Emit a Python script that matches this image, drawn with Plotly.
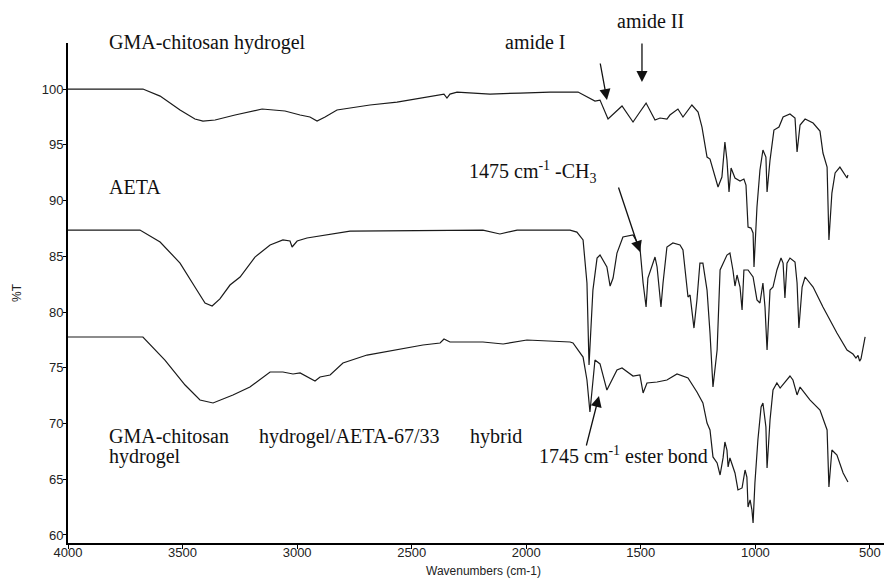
import plotly.graph_objects as go

# ---- GMA-chitosan hydrogel (top trace) ----
gma_wn = [4000, 3860, 3673, 3598, 3511, 3446, 3411, 3358, 3271, 3153, 3053, 2987, 2944, 2913, 2878,
          2826, 2682, 2564, 2390, 2359, 2346, 2333, 2302, 2158, 2027, 1896, 1774, 1722, 1700, 1678,
          1643, 1582, 1534, 1504, 1477, 1438, 1416, 1386, 1373, 1338, 1316, 1277, 1250, 1233, 1211,
          1198, 1163, 1146, 1133, 1124, 1115, 1106, 1089, 1067, 1050, 1041, 1032, 1019, 1010, 1006,
          993, 980, 967, 954, 949, 936, 919, 897, 879, 849, 827, 818, 805, 783, 748, 718, 705, 687,
          679, 666, 652, 631, 609, 600, 596]
gma_t = [100, 100, 100, 99.37, 98.12, 97.31, 97.13, 97.22, 97.67, 98.21, 98.03, 97.67, 97.49, 97.13, 97.49,
         98.12, 98.57, 98.83, 99.46, 99.55, 99.19, 99.55, 99.73, 99.55, 99.64, 99.73, 99.73, 99.19, 98.92, 99.01,
         97.31, 98.48, 97.04, 97.94, 98.74, 97.22, 97.40, 97.31, 97.67, 98.21, 97.49, 98.57, 97.94, 96.59, 93.90,
         93.72, 91.21, 92.11, 95.25, 93.63, 90.76, 92.91, 92.02, 91.75, 91.93, 91.39, 87.62, 87.53, 87.09, 84.04,
         89.42, 92.74, 94.53, 93.90, 90.76, 93.63, 96.32, 96.59, 97.49, 97.76, 97.40, 94.35, 96.77, 97.31, 96.95,
         96.23, 94.26, 93.00, 86.46, 90.67, 92.47, 93.00, 92.29, 92.02, 92.29]

# ---- AETA (middle trace) ----
aeta_wn = [4000, 3686, 3598, 3511, 3446, 3402, 3371, 3337, 3293, 3249, 3184, 3118, 3062, 3031, 3022,
           3000, 2957, 2769, 2189, 2115, 2040, 1809, 1779, 1752, 1735, 1726, 1709, 1691, 1678, 1648,
           1634, 1621, 1604, 1578, 1534, 1504, 1490, 1477, 1469, 1438, 1429, 1412, 1403, 1386, 1360,
           1329, 1316, 1303, 1294, 1285, 1268, 1255, 1242, 1229, 1211, 1198, 1185, 1167, 1154, 1124,
           1111, 1098, 1089, 1080, 1067, 1058, 1050, 1032, 1010, 993, 980, 967, 958, 949, 936, 923,
           906, 888, 879, 871, 862, 849, 827, 818, 810, 796, 783, 748, 705, 644, 600, 574, 561, 552,
           545, 539, 530, 521]
aeta_t = [87.35, 87.35, 86.28, 84.39, 82.24, 80.81, 80.54, 81.17, 82.42, 83.14, 84.93, 86.01, 86.46, 86.37, 85.83,
          86.37, 86.64, 87.26, 87.35, 87.00, 87.35, 87.35, 87.17, 86.46, 82.60, 75.25, 81.97, 84.84, 85.11, 84.04,
          82.33, 83.05, 85.29, 86.73, 86.91, 85.83, 82.60, 80.45, 83.05, 84.93, 84.04, 80.45, 82.60, 85.83, 86.19,
          86.01, 85.56, 82.87, 81.35, 81.52, 78.56, 81.08, 84.39, 84.39, 81.97, 78.12, 73.27, 76.59, 83.77, 85.11,
          85.29, 83.77, 82.33, 83.32, 82.24, 80.18, 83.77, 83.77, 83.14, 81.08, 80.81, 82.60, 80.45, 76.59, 81.97, 82.24,
          83.77, 84.84, 84.39, 81.26, 84.39, 84.84, 84.48, 82.60, 78.56, 82.24, 83.14, 82.24, 80.45, 78.12, 76.59, 76.23,
          75.87, 76.10, 75.60, 75.80, 76.86, 77.76]

# ---- GMA-chitosan hydrogel/AETA-67/33 hybrid hydrogel (bottom trace) ----
hyb_wn = [4000, 3673, 3577, 3489, 3424, 3367, 3280, 3206, 3118, 3062, 3018, 2987, 2922, 2900, 2856,
          2800, 2695, 2564, 2451, 2376, 2359, 2333, 2189, 2101, 1997, 1809, 1796, 1752, 1735, 1722,
          1700, 1678, 1648, 1604, 1582, 1534, 1504, 1490, 1473, 1429, 1386, 1342, 1294, 1255, 1229,
          1211, 1198, 1185, 1167, 1154, 1141, 1133, 1124, 1119, 1111, 1089, 1076, 1058, 1045, 1037,
          1032, 1023, 1015, 1010, 1002, 989, 975, 967, 954, 949, 936, 923, 906, 892, 871, 849, 836,
          818, 805, 762, 718, 687, 679, 666, 644, 617, 596]
hyb_t = [77.76, 77.76, 75.69, 73.45, 72.11, 71.84, 72.56, 73.27, 74.62, 74.62, 74.44, 74.53, 73.81, 74.17, 74.35,
         75.43, 76.14, 76.59, 77.04, 77.22, 77.58, 77.31, 77.31, 77.13, 77.49, 77.31, 77.22, 75.96, 73.90, 71.03,
         75.69, 75.34, 73.00, 74.80, 74.98, 74.26, 74.35, 72.74, 73.63, 73.72, 73.90, 74.44, 74.08, 72.83, 71.84,
         70.04, 69.42, 67.00, 66.46, 65.38, 66.91, 68.34, 67.62, 66.10, 66.91, 65.56, 64.04, 64.22, 65.83, 65.20,
         62.51, 63.14, 62.24, 61.08, 64.66, 68.52, 71.48, 71.84, 69.69, 66.01, 70.31, 73.00, 73.63, 73.18, 73.72,
         74.26, 73.90, 72.56, 73.27, 72.11, 71.21, 69.42, 64.30, 67.62, 67.17, 65.56, 64.75]

x_ticks = [4000, 3500, 3000, 2500, 2000, 1500, 1000, 500]
y_ticks = [60, 65, 70, 75, 80, 85, 90, 95, 100]

line_style = dict(color="#1a1a1a", width=1.2)

fig = go.Figure()
for wn, t in [(gma_wn, gma_t), (aeta_wn, aeta_t), (hyb_wn, hyb_t)]:
    fig.add_trace(go.Scatter(x=wn, y=t, mode="lines", line=line_style, showlegend=False,
                             hoverinfo="skip"))

serif = dict(family="Liberation Serif, Times New Roman, serif", size=20, color="#111111")
texts = [
    ("GMA-chitosan hydrogel", 0.0478, 1.002, "left"),
    ("amide I", 0.6127, 1.002, "right"),
    ("amide II", 0.6703, 1.044, "left"),
    ("AETA", 0.0478, 0.712, "left"),
    ("1475 cm<sup>-1</sup> -CH<sub>3</sub>", 0.489, 0.742, "left"),
    ("GMA-chitosan", 0.0478, 0.214, "left"),
    ("hydrogel/AETA-67/33", 0.2316, 0.214, "left"),
    ("hybrid", 0.4902, 0.214, "left"),
    ("hydrogel", 0.0478, 0.174, "left"),
    ("1745 cm<sup>-1</sup> ester bond", 0.5748, 0.176, "left"),
]
annotations = []
for txt, x, y, xa in texts:
    annotations.append(dict(text=txt, x=x, y=y, xref="paper", yref="paper", xanchor=xa,
                            yanchor="middle", showarrow=False, font=serif))

arrows = [
    (0.6605, 0.886, -7, -38),
    (0.7034, 0.922, 0, -40),
    (0.701, 0.582, -22, -66),
    (0.6507, 0.294, -13, 51),
]
for x, y, ax, ay in arrows:
    annotations.append(dict(text="", x=x, y=y, xref="paper", yref="paper", ax=ax, ay=ay,
                            showarrow=True, arrowhead=2, arrowsize=1.7, arrowwidth=1.3,
                            arrowcolor="#111111", standoff=0))

sans = dict(family="Liberation Sans, Arial, sans-serif", size=12, color="#222222")
annotations.append(dict(text="%T", x=-0.0625, y=0.5, xref="paper", yref="paper", textangle=-90,
                        showarrow=False, font=sans, xanchor="center", yanchor="middle"))
annotations.append(dict(text="Wavenumbers (cm-1)", x=0.5086, y=-0.056, xref="paper", yref="paper",
                        showarrow=False, font=sans, xanchor="center", yanchor="middle"))

tickfont = dict(family="Liberation Sans, Arial, sans-serif", size=13, color="#222222")
fig.update_layout(
    width=884, height=578,
    margin=dict(l=68, r=0, t=43, b=35),
    paper_bgcolor="white", plot_bgcolor="white",
    annotations=annotations,
    font=sans,
    xaxis=dict(range=[4000, 438.6], tickvals=x_ticks, ticktext=[str(v) for v in x_ticks],
               showgrid=False, zeroline=False, showline=True, linecolor="black", linewidth=2,
               ticks="outside", ticklen=4, tickwidth=1, tickcolor="black",
               ticklabelstandoff=-8, tickfont=tickfont),
    yaxis=dict(range=[59.28, 104.13], tickvals=y_ticks, ticktext=[str(v) for v in y_ticks],
               showgrid=False, zeroline=False, showline=True, linecolor="black", linewidth=2,
               ticks="outside", ticklen=3, tickwidth=1, tickcolor="black",
               ticklabelstandoff=-3, tickfont=tickfont),
)

fig.write_html("out.html")
